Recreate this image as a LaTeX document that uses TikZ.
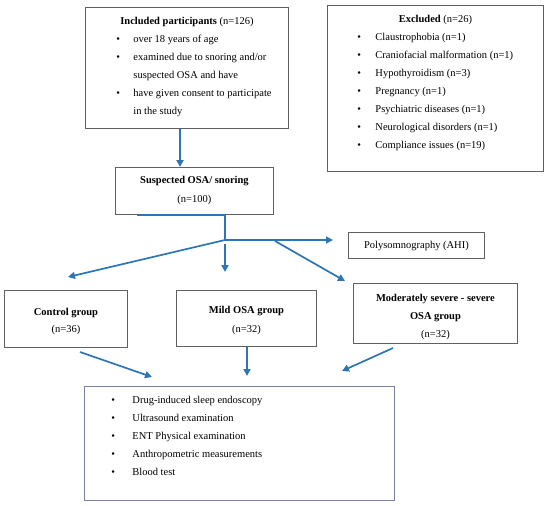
\documentclass[tikz,border=0pt]{standalone}
\usepackage{fontspec}
\setmainfont{Liberation Serif}
\usetikzlibrary{arrows.meta}

\definecolor{flowblue}{RGB}{46,117,182}
\definecolor{boxgray}{RGB}{95,95,100}
\definecolor{listgray}{RGB}{120,130,160}

\newlength{\bulind}
\newlength{\bulgap}
\newcommand{\bul}[1]{\par\hspace*{\bulind}\makebox[\bulgap][l]{\textbullet}#1}
\newcommand{\cnt}[1]{\par\hspace*{\bulind}\hspace*{\bulgap}#1}
\newcommand{\ttl}[1]{\par{\centering #1\par}}
% centred group text, top-aligned in a box of given size
\newcommand{\grp}[4]{\parbox[c][#2][t]{#1}{\centering\vspace*{#3}#4\par}}

\tikzset{
  box/.style={draw=boxgray, line width=0.9pt, inner sep=0pt, anchor=north west},
  flow/.style={draw=flowblue, line width=1.7pt, -{Triangle[length=7pt,width=7pt]}},
}

\begin{document}
\begin{tikzpicture}[x=1pt, y=-1pt]
\useasboundingbox (0,0) rectangle (550,506);
\fontsize{10.5}{18}\selectfont

% inclusion and exclusion
\setlength{\bulind}{31pt}\setlength{\bulgap}{17pt}
\node[box] (included) at (85,7) {\parbox[c][121pt][t]{203pt}{\vspace*{10pt}%
  \ttl{\textbf{Included participants} (n=126)}
  \bul{over 18 years of age}
  \bul{examined due to snoring and/or}
  \cnt{suspected OSA and have}
  \bul{have given consent to participate}
  \cnt{in the study}}};

\setlength{\bulind}{30pt}\setlength{\bulgap}{18pt}
\node[box] (excluded) at (327,5) {\parbox[c][166pt][t]{216pt}{\vspace*{10pt}%
  \ttl{\textbf{Excluded} (n=26)}
  \bul{Claustrophobia (n=1)}
  \bul{Craniofacial malformation (n=1)}
  \bul{Hypothyroidism (n=3)}
  \bul{Pregnancy (n=1)}
  \bul{Psychiatric diseases (n=1)}
  \bul{Neurological disorders (n=1)}
  \bul{Compliance issues (n=19)}}};

\node[box] (suspected) at (115,167)
  {\grp{158pt}{47pt}{9pt}{\textbf{Suspected OSA/ snoring}\\[1pt](n=100)}};

% split into groups
\coordinate (stem) at (180,0);
\coordinate (split) at (225,240);
\coordinate (midtop) at (225,244);
\coordinate (toctrl) at (68,277);
\coordinate (tomild) at (225,272);
\coordinate (topsg) at (333,240);
\coordinate (fork) at (275,241);
\coordinate (tosev) at (345,281);

\node[box] (psg) at (348,232) {\grp{136pt}{26pt}{9pt}{Polysomnography (AHI)}};

\node[box] (control) at (4,290)
  {\grp{123pt}{57pt}{18pt}{\textbf{Control group}\\[-1pt](n=36)}};
\node[box] (mild) at (176,290)
  {\grp{140pt}{56pt}{16pt}{\textbf{Mild OSA group}\\[1pt](n=32)}};
\node[box] (severe) at (353,283)
  {\grp{164pt}{60pt}{11pt}{\textbf{Moderately severe - severe}\\\textbf{OSA group}\\(n=32)}};

% examinations
\setlength{\bulind}{27pt}\setlength{\bulgap}{21pt}
\node[box, draw=listgray] (exams) at (84,386) {\parbox[c][114pt][t]{310pt}{\vspace*{10pt}%
  \bul{Drug-induced sleep endoscopy}
  \bul{Ultrasound examination}
  \bul{ENT Physical examination}
  \bul{Anthropometric measurements}
  \bul{Blood test}}};

\coordinate (fromctrl) at (80,352);
\coordinate (frommild) at (247,347);
\coordinate (fromsev) at (393,348);
\coordinate (toexl) at (152,377);
\coordinate (toexm) at (247,376);
\coordinate (toexr) at (342,371);

\draw[flow, line width=2.4pt] (included.south -| stem) -- (suspected.north -| stem);
\draw[draw=flowblue, line width=1.7pt] ([xshift=22pt]suspected.south west) -- (suspected.south -| split) -- (split);
\draw[flow] (split) -- (toctrl);
\draw[flow] (midtop) -- (tomild);
\draw[flow] (split) -- (topsg);
\draw[flow] (fork) -- (tosev);
\draw[flow] (fromctrl) -- (toexl);
\draw[flow] (frommild) -- (toexm);
\draw[flow] (fromsev) -- (toexr);
\end{tikzpicture}
\end{document}
